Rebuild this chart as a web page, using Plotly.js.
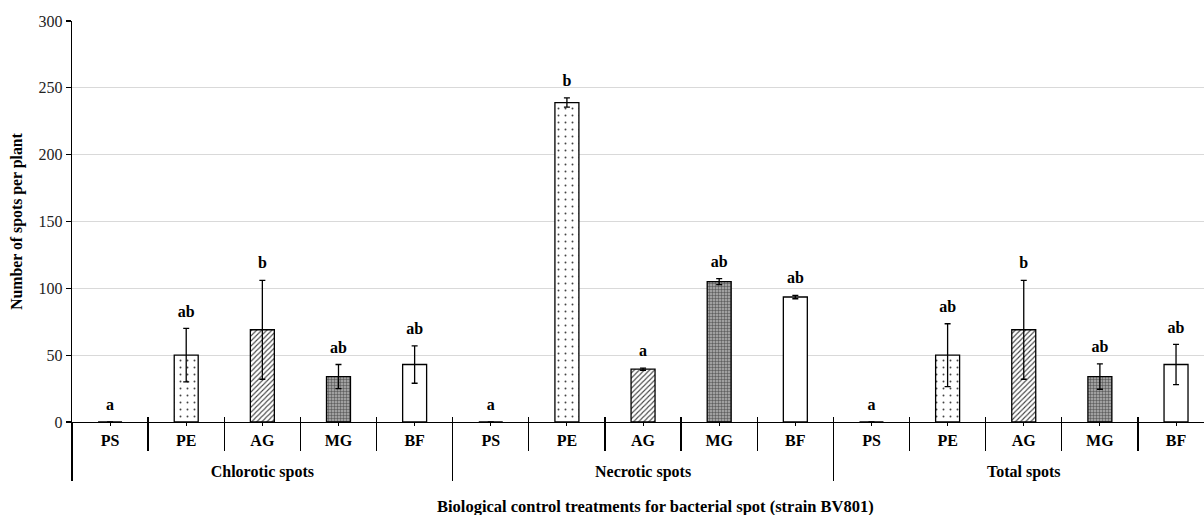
<!DOCTYPE html>
<html>
<head>
<meta charset="utf-8">
<script src="https://cdn.plot.ly/plotly-3.0.1.min.js"></script>
<style>html,body{margin:0;padding:0;background:#fff;}#chart{width:1204px;height:515px;}</style>
</head>
<body>
<div id="chart"></div>
<script>
// ---- data ----
const groups = ["Chlorotic spots", "Necrotic spots", "Total spots"];
const treatments = ["PS", "PE", "AG", "MG", "BF"];
const chloroticMeans = [0, 50, 69, 34, 43];
const chloroticErrors = [0, 20, 37, 9, 14];
const necroticMeans = [0, 239, 39.5, 105, 93.5];
const necroticErrors = [0, 3.5, 0.8, 2.2, 1.3];
const totalMeans = [0, 50, 69, 34, 43];
const totalErrors = [0, 23.5, 37, 9.5, 15];
const chloroticLetters = ["a", "ab", "b", "ab", "ab"];
const necroticLetters = ["a", "b", "a", "ab", "ab"];
const totalLetters = ["a", "ab", "b", "ab", "ab"];

// ---- build ----
const xGroup = [], xSub = [], yVals = [], eVals = [], letters = [];
const meansByGroup = [chloroticMeans, necroticMeans, totalMeans];
const errsByGroup = [chloroticErrors, necroticErrors, totalErrors];
const lettersByGroup = [chloroticLetters, necroticLetters, totalLetters];
groups.forEach((g, gi) => {
  treatments.forEach((t, ti) => {
    xGroup.push(g); xSub.push(t);
    yVals.push(meansByGroup[gi][ti]);
    eVals.push(errsByGroup[gi][ti]);
    letters.push(lettersByGroup[gi][ti]);
  });
});
const nT = treatments.length;
const subIdx = xSub.map((_, i) => i);                       // category index positions
const allBounds = subIdx.map(i => i + 0.5);
const subBounds = allBounds.slice(0, -1).filter(b => (b + 0.5) % nT !== 0);
const groupCenters = groups.map((_, gi) => gi * nT + (nT - 1) / 2);
const groupBounds = groups.map((_, gi) => gi * nT - 0.5).concat([groups.length * nT - 0.5]);

const patternShape = {PS: "", PE: ".", AG: "/", MG: "+", BF: ""};
const patternBg = {PS: "#ffffff", PE: "#ffffff", AG: "#ffffff", MG: "#a0a0a0", BF: "#ffffff"};
const patternSize = {PS: 6, PE: 7, AG: 3.6, MG: 3, BF: 6};
const patternSolid = {PS: 0.2, PE: 0.06, AG: 0.3, MG: 0.28, BF: 0.2};

const xmax = -0.5 + (1204 - 72) / 76.14;
const xr = [-0.5, xmax];

const bars = {
  type: "bar",
  x: [xGroup, xSub],
  y: yVals,
  error_y: {type: "data", array: eVals, visible: true, color: "#000", thickness: 1.3, width: 3},
  marker: {
    color: xSub.map(s => patternBg[s]),
    line: {color: "#000", width: 1.3},
    pattern: {
      shape: xSub.map(s => patternShape[s]),
      fgcolor: "#000",
      fgopacity: 1,
      bgcolor: xSub.map(s => patternBg[s]),
      size: xSub.map(s => patternSize[s]),
      solidity: xSub.map(s => patternSolid[s]),
      fillmode: "overlay"
    }
  },
  hoverinfo: "skip"
};

const labels = {
  type: "scatter",
  mode: "markers+text",
  x: [xGroup, xSub],
  y: yVals.map((v, i) => v + eVals[i]),
  text: letters,
  textposition: "top center",
  marker: {size: 11, color: "rgba(0,0,0,0)"},
  textfont: {family: "Liberation Serif", size: 16, color: "#000", weight: "bold"},
  cliponaxis: false,
  hoverinfo: "skip"
};

const helper2 = {type: "scatter", x: [], y: [], xaxis: "x2", yaxis: "y", hoverinfo: "skip"};
const helper3 = {type: "scatter", x: [], y: [], xaxis: "x3", yaxis: "y", hoverinfo: "skip"};
const helper4 = {type: "scatter", x: [], y: [], xaxis: "x4", yaxis: "y", hoverinfo: "skip"};

const layout = {
  width: 1204, height: 515,
  margin: {l: 72, r: 0, t: 21, b: 93},
  paper_bgcolor: "#fff", plot_bgcolor: "#fff",
  showlegend: false,
  bargap: 0.685,
  font: {family: "Liberation Serif", color: "#000"},
  xaxis: {
    type: "multicategory",
    range: xr,
    showline: true, linecolor: "#000", linewidth: 1.3,
    ticks: "", showticklabels: false, showdividers: false,
    showgrid: false, zeroline: false
  },
  xaxis2: {
    overlaying: "x", anchor: "y", side: "bottom",
    range: xr,
    tickmode: "array", tickvals: subIdx, ticktext: xSub,
    ticks: "outside", ticklen: 3, tickwidth: 1, tickcolor: "#000",
    tickfont: {family: "Liberation Serif", size: 16, color: "#000", weight: "bold"},
    ticklabelstandoff: 1,
    showgrid: false, zeroline: false, showline: false,
    minor: {tickmode: "array", tickvals: subBounds, ticks: "outside", ticklen: 28, tickwidth: 1.3, tickcolor: "#000", showgrid: false}
  },
  xaxis3: {
    overlaying: "x", anchor: "y", side: "bottom",
    range: xr,
    tickmode: "array", tickvals: groupCenters, ticktext: groups,
    ticks: "outside", ticklen: 35, tickwidth: 1, tickcolor: "rgba(0,0,0,0)",
    tickfont: {family: "Liberation Serif", size: 16, color: "#000", weight: "bold"},
    showgrid: false, zeroline: false, showline: false,
    minor: {tickmode: "array", tickvals: groupBounds, ticks: "outside", ticklen: 58, tickwidth: 1.3, tickcolor: "#000", showgrid: false}
  },
  xaxis4: {
    overlaying: "x", anchor: "y", side: "bottom",
    range: xr,
    tickmode: "array", tickvals: allBounds,
    ticks: "inside", ticklen: 5, tickwidth: 1.3, tickcolor: "#000",
    showticklabels: false, showgrid: false, zeroline: false, showline: false
  },
  yaxis: {
    range: [0, 300], dtick: 50,
    showline: true, linecolor: "#000", linewidth: 1.3,
    ticks: "outside", ticklen: 5, tickwidth: 1.3, tickcolor: "#000",
    gridcolor: "#d9d9d9", gridwidth: 1.3, zeroline: false,
    tickfont: {family: "Liberation Serif", size: 16, color: "#222"},
    title: {text: "Number of spots per plant", font: {family: "Liberation Serif", size: 15.8, color: "#000", weight: "bold"}, standoff: 12}
  },
  annotations: [{
    text: "Biological control treatments for bacterial spot (strain BV801)",
    xref: "paper", yref: "paper", x: (655 - 72) / 1132, y: 0, yshift: -84,
    xanchor: "center", yanchor: "middle", showarrow: false,
    font: {family: "Liberation Serif", size: 16.5, color: "#000", weight: "bold"}
  }]
};

Plotly.newPlot("chart", [bars, labels, helper2, helper3, helper4], layout, {displayModeBar: false, staticPlot: true});
</script>
</body>
</html>
